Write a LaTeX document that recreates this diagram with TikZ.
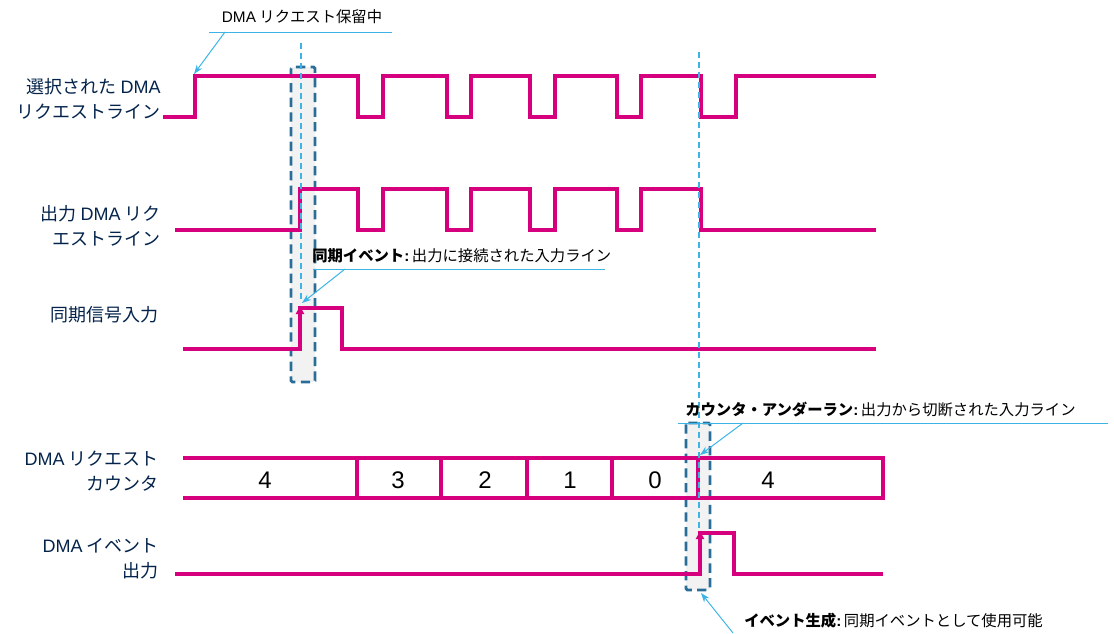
\documentclass[tikz,border=0pt]{standalone}
\usepackage{fontspec}
\setmainfont{Noto Sans CJK JP}
\newfontfamily\lat{Liberation Sans}
\usetikzlibrary{arrows.meta}
\definecolor{sig}{HTML}{D6007F}
\definecolor{navy}{HTML}{03234B}
\definecolor{lblue}{HTML}{3CB4E6}
\definecolor{boxc}{HTML}{2A6E98}
\definecolor{boxfill}{HTML}{F2F2F2}
\begin{document}
\begin{tikzpicture}[x=0.75pt,y=-0.75pt,
  sigline/.style={draw=sig,line width=2.4pt,line join=miter},
  sigarrow/.style={draw=sig,line width=2.4pt,-{Triangle[length=6pt,width=6pt]}},
  hold/.style={fill=boxfill,draw=boxc,line width=2.2pt,dash pattern=on 7pt off 4pt,rounded corners=1pt},
  guide/.style={draw=lblue,line width=0.8pt,dash pattern=on 4.5pt off 3pt},
  calline/.style={draw=lblue,line width=0.75pt},
  calarrow/.style={draw=lblue,line width=0.75pt,-{Stealth[length=7pt,width=5pt]}},
  lbl/.style={align=right,anchor=east,inner sep=0pt,text=navy,font=\fontsize{13.5}{18.5}\selectfont},
  digit/.style={inner sep=0pt,font=\lat\fontsize{18}{20}\selectfont},
  caltext/.style={inner sep=0pt,font=\fontsize{11.5}{14}\selectfont}]
\useasboundingbox (0,0) rectangle (1114,633);

% hold boxes
\draw[hold] (291,67) rectangle (315,382);
\draw[hold] (686,423) rectangle (710,590);

% labels
\node[lbl] (l1) at (161,99) {選択された {\lat DMA}\\リクエストライン};
\node[lbl] (l2) at (161,226) {出力 {\lat DMA} リク\\エストライン};
\node[lbl] (l3) at (159,315) {同期信号入力};
\node[lbl] (l4) at (159,471) {{\lat DMA} リクエスト\\カウンタ};
\node[lbl] (l5) at (159,559) {{\lat DMA} イベント\\出力};

% selected DMA request line
\draw[sigline] (163,117) -| (195,76) -| (358,117) -| (383,76) -| (447,117) -| (471,76)
  -| (530,117) -| (555,76) -| (617,117) -| (641,76) -| (701,117) -| (736,76) -- (876,76);

% output DMA request line
\draw[sigline] (175,230) -| (300,189) -| (358,230) -| (383,189) -| (447,230) -| (471,189)
  -| (530,230) -| (555,189) -| (617,230) -| (641,189) -| (701,230) -- (876,230);

% sync signal input
\draw[sigline] (183,349) -- (300,349) -- (300,308) -- (342,308) -- (342,349) -- (876,349);
\draw[sigarrow] (300,340) -- (300,306);

% counter
\draw[sigline] (183,458) -- (883,458) -- (883,498) -- (183,498);
\foreach \xx in {357,441,527,612,698} \draw[sigline] (\xx,458) -- (\xx,498);
\node[digit] (d1) at (265,480) {4};
\node[digit] (d2) at (398,480) {3};
\node[digit] (d3) at (485,480) {2};
\node[digit] (d4) at (570,480) {1};
\node[digit] (d5) at (655,480) {0};
\node[digit] (d6) at (768,480) {4};

% DMA event output
\draw[sigline] (175,574) -- (700,574) -- (700,533) -- (734,533) -- (734,574) -- (883,574);
\draw[sigarrow] (700,565) -- (700,531);

% guide lines
\draw[guide] (301,43) -- (301,302);
\draw[guide] (699,52) -- (699,530);

% callout 1
\node[caltext] (c1) at (302,17) {{\lat DMA} リクエスト保留中};
\coordinate (c1l) at (209,32);
\coordinate (c1r) at (392,32);
\coordinate (c1a) at (225,32);
\coordinate (c1t) at (194,74);
\draw[calline] (c1l) -- (c1r);
\draw[calarrow] (c1a) -- (c1t);

% callout 2
\node[caltext,anchor=west] (c2) at (312,256) {\textbf{同期イベント{\lat :}}\,出力に接続された入力ライン};
\coordinate (c2l) at (313,269);
\coordinate (c2r) at (605,269);
\coordinate (c2a) at (345,269);
\coordinate (c2t) at (302,303);
\draw[calline] (c2l) -- (c2r);
\draw[calarrow] (c2a) -- (c2t);

% callout 3
\node[caltext,anchor=west] (c3) at (685,410) {\textbf{カウンタ・アンダーラン{\lat :}}\,出力から切断された入力ライン};
\coordinate (c3l) at (678,423);
\coordinate (c3r) at (1108,423);
\coordinate (c3a) at (743,423);
\coordinate (c3t) at (700,455);
\draw[calline] (c3l) -- (c3r);
\draw[calarrow] (c3a) -- (c3t);

% callout 4
\node[caltext,anchor=west] (c4) at (744,621) {\textbf{イベント生成{\lat :}}\,同期イベントとして使用可能};
\coordinate (c4a) at (733,633);
\coordinate (c4t) at (701,593);
\draw[calarrow] (c4a) -- (c4t);
\end{tikzpicture}
\end{document}
